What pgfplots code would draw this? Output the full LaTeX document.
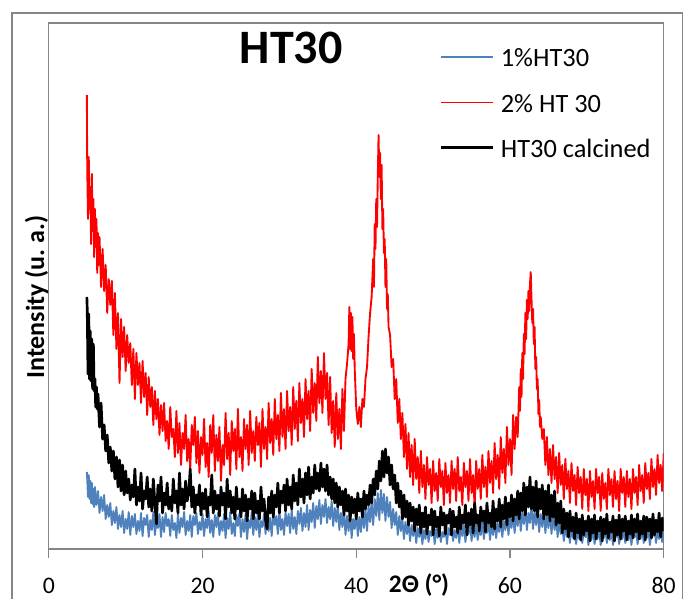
\documentclass[border=0pt]{standalone}
\usepackage{fontspec}
\setmainfont{Carlito}
\usepackage{pgfplots}
\pgfplotsset{compat=1.18}
\definecolor{xlblue}{RGB}{79,129,189}
\definecolor{xlred}{RGB}{255,0,0}
\definecolor{xlgray}{RGB}{134,134,134}
\begin{document}
\begin{tikzpicture}
\useasboundingbox (-36.6pt,-37.5pt) rectangle (475.65pt,411.75pt);
\draw[xlgray, line width=0.9pt] (-27.6pt,-60pt) -- (-27.6pt,402pt) -- (475pt,402pt) -- (475pt,-60pt);
\begin{axis}[
  at={(0pt,0pt)}, anchor=south west,
  scale only axis, width=461.2pt, height=394.5pt,
  xmin=0, xmax=80, ymin=0, ymax=526,
  xtick={0,20,40,60,80}, ytick=\empty,
  xtick pos=left,
  tick align=outside, major tick length=6.75pt,
  every tick/.style={xlgray, line width=0.9pt},
  axis line style={xlgray, line width=0.9pt},
  /pgf/number format/assume math mode=true,
  ticklabel style={font=\fontsize{17.8}{20}\selectfont},
  xticklabel style={anchor=base, yshift=-26.3pt},
  title={HT30},
  title style={at={(rel axis cs:0.394,0.907)}, anchor=base, font=\fontsize{36}{40}\selectfont\bfseries},
  xlabel={2Θ (°)},
  xlabel style={at={(rel axis cs:0.602,0)}, anchor=base, yshift=-32.8pt, font=\fontsize{19}{22}\selectfont\bfseries},
  ylabel={Intensity (u.\ a.)},
  ylabel style={at={(rel axis cs:-0.0078,0.479)}, anchor=base, font=\fontsize{19.5}{22}\selectfont\bfseries},
  legend style={at={(rel axis cs:0.636,0.950)}, anchor=north west, draw=none, fill=none, inner sep=0pt,
    column sep=4.5pt, row sep=17pt, font=\fontsize{19.8}{22}\selectfont,
    nodes={inner sep=0pt, text height=13pt, text depth=4pt}},
  legend cell align=left,
  legend image code/.code={\draw[#1] (0pt,3pt) -- (39pt,3pt);},
  every axis plot/.append style={line join=round},
]
\addplot[xlblue, line width=1.4pt, legend image post style={line width=1pt}] coordinates {
(4.95,77) (5.0,70) (5.1,52) (5.2,74) (5.3,50) (5.4,68) (5.5,46) (5.6,66) (5.7,45) (5.8,60) (5.9,42) (6.0,62) (6.2,44) (6.4,58) (6.6,36) (6.8,52) (7.0,38) (7.2,54) (7.4,30) (7.6,44) (7.8,32) (8.0,46) (8.2,24) (8.4,38) (8.6,26) (8.8,42) (9.0,20) (9.2,34) (9.4,22) (9.6,38) (9.8,16) (10.0,30) (10.2,20) (10.4,37) (10.6,14) (10.8,33) (11.0,22) (11.2,35) (11.4,15) (11.6,28) (11.8,18) (12.0,36) (12.2,13) (12.4,31) (12.6,24) (12.8,34) (13.0,12) (13.2,29) (13.4,19) (13.6,37) (13.8,14) (14.0,27) (14.2,21) (14.4,35) (14.6,12) (14.8,32) (15.0,17) (15.2,36) (15.4,23) (15.6,30) (15.8,13) (16.0,34) (16.2,19) (16.4,26) (16.6,11) (16.8,35) (17.0,16) (17.2,31) (17.4,22) (17.6,37) (17.8,14) (18.0,28) (18.2,18) (18.4,34) (18.6,12) (18.8,33) (19.0,24) (19.2,36) (19.4,15) (19.6,27) (19.8,19) (20.0,35) (20.2,13) (20.4,30) (20.6,21) (20.8,38) (21.0,16) (21.2,29) (21.4,12) (21.6,34) (21.8,22) (22.0,36) (22.2,14) (22.4,28) (22.6,18) (22.8,35) (23.0,11) (23.2,31) (23.4,20) (23.6,37) (23.8,15) (24.0,26) (24.2,13) (24.4,34) (24.6,23) (24.8,36) (25.0,12) (25.2,30) (25.4,17) (25.6,35) (25.8,10) (26.0,29) (26.2,21) (26.4,37) (26.6,14) (26.8,32) (27.0,19) (27.2,36) (27.4,12) (27.6,28) (27.8,22) (28.0,35) (28.2,15) (28.4,38) (28.6,18) (28.8,31) (29.0,13) (29.2,36) (29.4,24) (29.6,33) (29.8,15) (30.0,39) (30.2,19) (30.4,30) (30.6,14) (30.8,37) (31.0,23) (31.2,35) (31.4,16) (31.6,40) (31.8,20) (32.0,32) (32.2,15) (32.4,38) (32.6,25) (32.8,41) (33.0,18) (33.2,36) (33.4,22) (33.6,44) (33.8,19) (34.0,39) (34.2,27) (34.4,46) (34.6,21) (34.8,43) (35.0,30) (35.2,49) (35.4,25) (35.6,44) (35.8,32) (36.0,50) (36.2,26) (36.4,42) (36.6,30) (36.8,48) (37.0,23) (37.2,41) (37.4,27) (37.6,44) (37.8,19) (38.0,36) (38.2,22) (38.4,39) (38.6,14) (38.8,33) (39.0,18) (39.2,36) (39.4,11) (39.6,30) (39.8,20) (40.0,37) (40.2,13) (40.4,32) (40.6,17) (40.8,38) (41.0,21) (41.2,40) (41.4,18) (41.6,43) (41.8,27) (42.0,48) (42.2,24) (42.4,50) (42.6,33) (42.8,56) (43.0,29) (43.2,59) (43.4,36) (43.6,55) (43.8,28) (44.0,52) (44.2,32) (44.4,47) (44.6,21) (44.8,40) (45.0,24) (45.2,37) (45.4,14) (45.6,33) (45.8,18) (46.0,30) (46.2,10) (46.4,27) (46.6,15) (46.8,28) (47.0,8) (47.2,24) (47.4,13) (47.6,25) (47.8,6) (48.0,21) (48.2,12) (48.4,23) (48.6,5) (48.8,19) (49.0,10) (49.2,24) (49.4,7) (49.6,18) (49.8,13) (50.0,22) (50.2,5) (50.4,20) (50.6,11) (50.8,24) (51.0,7) (51.2,17) (51.4,12) (51.6,23) (51.8,5) (52.0,21) (52.2,14) (52.4,25) (52.6,8) (52.8,19) (53.0,11) (53.2,26) (53.4,6) (53.6,22) (53.8,13) (54.0,24) (54.2,7) (54.4,20) (54.6,15) (54.8,27) (55.0,8) (55.2,23) (55.4,12) (55.6,26) (55.8,9) (56.0,21) (56.2,14) (56.4,28) (56.6,10) (56.8,24) (57.0,16) (57.2,29) (57.4,9) (57.6,25) (57.8,14) (58.0,30) (58.2,11) (58.4,26) (58.6,17) (58.8,31) (59.0,12) (59.2,28) (59.4,19) (59.6,34) (59.8,14) (60.0,31) (60.2,21) (60.4,36) (60.6,16) (60.8,34) (61.0,23) (61.2,39) (61.4,18) (61.6,37) (61.8,25) (62.0,42) (62.2,19) (62.4,36) (62.6,26) (62.8,43) (63.0,20) (63.2,38) (63.4,24) (63.6,41) (63.8,17) (64.0,35) (64.2,22) (64.4,39) (64.6,16) (64.8,33) (65.0,21) (65.2,37) (65.4,15) (65.6,34) (65.8,19) (66.0,31) (66.2,12) (66.4,29) (66.6,15) (66.8,26) (67.0,8) (67.2,25) (67.4,12) (67.6,22) (67.8,6) (68.0,21) (68.2,11) (68.4,23) (68.6,5) (68.8,18) (69.0,10) (69.2,21) (69.4,6) (69.6,17) (69.8,12) (70.0,20) (70.2,4) (70.4,18) (70.6,9) (70.8,21) (71.0,5) (71.2,15) (71.4,10) (71.6,19) (71.8,4) (72.0,17) (72.2,11) (72.4,21) (72.6,6) (72.8,16) (73.0,9) (73.2,20) (73.4,4) (73.6,18) (73.8,12) (74.0,19) (74.2,5) (74.4,15) (74.6,10) (74.8,21) (75.0,6) (75.2,17) (75.4,9) (75.6,20) (75.8,4) (76.0,18) (76.2,12) (76.4,19) (76.6,5) (76.8,16) (77.0,10) (77.2,21) (77.4,6) (77.6,17) (77.8,11) (78.0,20) (78.2,4) (78.4,18) (78.6,13) (78.8,21) (79.0,6) (79.2,19) (79.4,10) (79.6,22) (79.8,7) (80.0,21)
};
\addlegendentry{1\%HT30}
\addplot[xlred, line width=1.4pt, legend image post style={line width=1pt}] coordinates {
(4.95,454) (5.0,381) (5.1,330) (5.2,392) (5.3,340) (5.4,362) (5.5,305) (5.6,375) (5.7,318) (5.8,350) (5.9,292) (6.0,340) (6.1,302) (6.2,330) (6.3,276) (6.4,316) (6.5,284) (6.6,312) (6.8,262) (7.0,300) (7.2,258) (7.4,284) (7.6,236) (7.8,270) (8.0,244) (8.2,268) (8.4,214) (8.6,256) (8.8,200) (9.0,236) (9.2,166) (9.4,230) (9.6,192) (9.8,222) (10.0,178) (10.2,214) (10.4,186) (10.6,206) (10.8,164) (11.0,200) (11.2,150) (11.4,196) (11.6,164) (11.8,186) (12.0,146) (12.2,188) (12.4,152) (12.6,176) (12.8,134) (13.0,172) (13.2,142) (13.4,162) (13.6,124) (13.8,158) (14.0,130) (14.2,150) (14.4,114) (14.6,144) (14.8,118)
(15.0,146) (15.2,108) (15.4,128) (15.6,100) (15.8,142) (16.0,112) (16.2,120) (16.4,92) (16.6,138) (16.8,96) (17.0,126) (17.2,84) (17.4,116) (17.6,100) (17.8,134) (18.0,88) (18.2,110) (18.4,80) (18.6,124) (18.8,104) (19.0,132) (19.2,86) (19.4,118) (19.6,76) (19.8,112) (20.0,94) (20.2,130) (20.4,82) (20.6,106) (20.8,72) (21.0,124) (21.2,96) (21.4,134) (21.6,78) (21.8,114) (22.0,88) (22.2,122) (22.4,68) (22.6,104) (22.8,84) (23.0,136) (23.2,90) (23.4,116) (23.6,74) (23.8,128) (24.0,98) (24.2,120) (24.4,80) (24.6,140) (24.8,92) (25.0,112) (25.2,78) (25.4,130) (25.6,100) (25.8,124) (26.0,84) (26.2,138) (26.4,96) (26.6,118) (26.8,88) (27.0,132) (27.2,104) (27.4,126) (27.6,82) (27.8,140) (28.0,100) (28.2,122) (28.4,90) (28.6,146) (28.8,106) (29.0,130) (29.2,94) (29.4,150) (29.6,110) (29.8,134) (30.0,98) (30.2,156) (30.4,112) (30.6,140) (30.8,100) (31.0,158) (31.2,118) (31.4,142) (31.6,104) (31.8,162) (32.0,120) (32.2,148) (32.4,108) (32.6,166) (32.8,126) (33.0,150) (33.2,112) (33.4,170) (33.6,130) (33.8,158) (34.0,118) (34.2,180) (34.4,136) (34.6,166) (34.8,128) (35.0,192) (35.2,146) (35.4,178) (35.6,136) (35.8,196) (36.0,150) (36.2,176) (36.4,124) (36.6,172) (36.8,116) (37.0,148) (37.2,102) (37.4,156) (37.6,110) (37.8,140) (38.0,100) (38.2,160) (38.4,118)
(38.6,170) (38.8,185) (39.0,205) (39.1,242) (39.2,200) (39.3,236) (39.4,198) (39.5,232) (39.6,190) (39.7,215) (39.8,180) (39.9,160) (40.0,140) (40.2,125) (40.4,142) (40.6,122) (40.8,150) (41.0,142) (41.2,170) (41.4,182) (41.6,212) (41.8,236) (42.0,252) (42.2,290) (42.3,262) (42.4,325) (42.5,300) (42.6,350) (42.7,322) (42.8,372) (42.9,414) (43.0,372) (43.1,396) (43.2,350) (43.3,384) (43.4,320) (43.5,340) (43.6,296) (43.7,310) (43.8,262) (43.9,290) (44.0,240) (44.1,255) (44.2,222) (44.4,214) (44.6,182) (44.8,190) (45.0,150) (45.2,170) (45.4,126) (45.6,150) (45.8,110) (46.0,136) (46.2,92) (46.4,125)
(46.6,80) (46.8,116) (47.0,72) (47.2,104) (47.4,64) (47.6,110) (47.8,70) (48.0,92) (48.2,56) (48.4,98) (48.6,62) (48.8,84) (49.0,50) (49.2,92) (49.4,64) (49.6,80) (49.8,46) (50.0,88) (50.2,58) (50.4,76) (50.6,48) (50.8,90) (51.0,62) (51.2,78) (51.4,44) (51.6,86) (51.8,56) (52.0,74) (52.2,46) (52.4,88) (52.6,60) (52.8,80) (53.0,48) (53.2,92) (53.4,58) (53.6,72) (53.8,44) (54.0,86) (54.2,62) (54.4,78) (54.6,48) (54.8,90) (55.0,56) (55.2,74) (55.4,42) (55.6,88) (55.8,60) (56.0,80) (56.2,50) (56.4,94) (56.6,62) (56.8,82) (57.0,52) (57.2,98) (57.4,66) (57.6,88) (57.8,56) (58.0,106) (58.2,70) (58.4,94) (58.6,60) (58.8,112) (59.0,76) (59.2,100) (59.4,66) (59.6,122) (59.8,84) (60.0,110) (60.2,74) (60.4,134)
(60.6,100) (60.8,132) (61.0,112) (61.2,162) (61.3,138) (61.4,180) (61.5,152) (61.6,196) (61.7,170) (61.8,215) (61.9,195) (62.0,236) (62.1,210) (62.2,249) (62.3,230) (62.4,258) (62.5,238) (62.6,265) (62.7,277) (62.8,250) (62.9,226) (63.0,240) (63.1,205) (63.2,222) (63.3,180) (63.4,192) (63.5,160) (63.6,170) (63.7,135) (63.8,149) (63.9,122) (64.0,132) (64.2,110) (64.4,120)
(64.6,84) (64.8,112) (65.0,74) (65.2,100) (65.4,66) (65.6,104) (65.8,70) (66.0,92) (66.2,56) (66.4,96) (66.6,64) (66.8,84) (67.0,50) (67.2,90) (67.4,60) (67.6,78) (67.8,46) (68.0,86) (68.2,58) (68.4,74) (68.6,44) (68.8,82) (69.0,56) (69.2,72) (69.4,40) (69.6,80) (69.8,54) (70.0,70) (70.2,38) (70.4,78) (70.6,52) (70.8,68) (71.0,40) (71.2,80) (71.4,56) (71.6,72) (71.8,38) (72.0,76) (72.2,50) (72.4,66) (72.6,40) (72.8,80) (73.0,54) (73.2,70) (73.4,42) (73.6,78) (73.8,50) (74.0,68) (74.2,38) (74.4,80) (74.6,56) (74.8,72) (75.0,42) (75.2,78) (75.4,52) (75.6,70) (75.8,40) (76.0,80) (76.2,56) (76.4,72) (76.6,44) (76.8,84) (77.0,58) (77.2,74) (77.4,46) (77.6,86) (77.8,60) (78.0,76) (78.2,50) (78.4,90) (78.6,62) (78.8,80) (79.0,54) (79.2,94) (79.4,66) (79.6,84) (79.8,58) (80.0,96)
};
\addlegendentry{2\% HT 30}
\addplot[black, line width=2pt] coordinates {
(4.95,252) (5.0,240) (5.1,175) (5.2,235) (5.3,170) (5.4,218) (5.5,168) (5.6,210) (5.7,160) (5.8,205) (5.9,158) (6.0,170) (6.1,142) (6.2,162) (6.3,140) (6.4,155) (6.6,122) (6.8,146) (7.0,110) (7.2,124) (7.4,98) (7.6,114) (7.8,86) (8.0,102) (8.2,78) (8.4,98) (8.6,70) (8.8,92) (9.0,62) (9.2,89) (9.4,58) (9.6,84) (9.8,54)
(10.0,78) (10.2,56) (10.4,70) (10.6,49) (10.8,64) (11.0,52) (11.2,80) (11.4,44) (11.6,62) (11.8,48) (12.0,76) (12.2,40) (12.4,58) (12.6,50) (12.8,72) (13.0,42) (13.2,60) (13.4,38) (13.6,70) (13.8,46) (14.0,25) (14.2,64) (14.4,48) (14.6,72) (14.8,36) (15.0,56) (15.2,44) (15.4,66) (15.6,40) (15.8,52) (16.0,38) (16.2,70) (16.4,46) (16.6,58) (16.8,36) (17.0,76) (17.2,44) (17.4,60) (17.6,40) (17.8,68) (18.0,48) (18.2,56) (18.4,80) (18.6,42) (18.8,62) (19.0,36) (19.2,54) (19.4,44) (19.6,64) (19.8,34) (20.0,56) (20.2,40) (20.4,60) (20.6,32) (20.8,52) (21.0,44) (21.2,74) (21.4,36) (21.6,58) (21.8,40) (22.0,54) (22.2,33) (22.4,62) (22.6,44) (22.8,56) (23.0,30) (23.2,70) (23.4,42) (23.6,58) (23.8,36) (24.0,52) (24.2,30) (24.4,62) (24.6,40) (24.8,50) (25.0,32) (25.2,60) (25.4,38) (25.6,54) (25.8,28) (26.0,50) (26.2,40) (26.4,58) (26.6,30) (26.8,56) (27.0,36) (27.2,48) (27.4,30) (27.6,62) (27.8,38) (28.0,50) (28.2,29) (28.4,20) (28.6,52) (28.8,36) (29.0,58) (29.2,32) (29.4,54) (29.6,42) (29.8,66) (30.0,36) (30.2,58) (30.4,46) (30.6,64) (30.8,38) (31.0,70) (31.2,44) (31.4,62) (31.6,40) (31.8,74) (32.0,48) (32.2,66) (32.4,44) (32.6,80) (32.8,52) (33.0,70) (33.2,46) (33.4,76) (33.6,54) (33.8,82) (34.0,50) (34.2,72) (34.4,56) (34.6,84) (34.8,60) (35.0,76) (35.2,58) (35.4,86) (35.6,62) (35.8,80) (36.0,58) (36.2,84) (36.4,54) (36.6,72) (36.8,50) (37.0,70) (37.2,46) (37.4,66) (37.6,42) (37.8,62) (38.0,44) (38.2,58) (38.4,34) (38.6,60) (38.8,38) (39.0,54) (39.2,28) (39.4,52) (39.6,36) (39.8,50) (40.0,30) (40.2,56) (40.4,38) (40.6,50) (40.8,32) (41.0,58) (41.2,40) (41.4,54) (41.6,44) (41.8,64) (42.0,46) (42.2,70) (42.4,54) (42.6,78) (42.8,60) (43.0,88) (43.2,68) (43.4,98) (43.6,72) (43.8,100) (44.0,76) (44.2,92) (44.4,64) (44.6,84) (44.8,60) (45.0,74) (45.2,46) (45.4,66) (45.6,42) (45.8,58) (46.0,30) (46.2,54) (46.4,32) (46.6,48) (46.8,24) (47.0,46) (47.2,28) (47.4,42) (47.6,18) (47.8,40) (48.0,24) (48.2,44) (48.4,16) (48.6,36) (48.8,22) (49.0,42) (49.2,15) (49.4,34) (49.6,24) (49.8,40) (50.0,14) (50.2,38) (50.4,22) (50.6,32) (50.8,13) (51.0,42) (51.2,24) (51.4,36) (51.6,15) (51.8,34) (52.0,26) (52.2,40) (52.4,14) (52.6,38) (52.8,22) (53.0,32) (53.2,16) (53.4,42) (53.6,20) (53.8,34) (54.0,26) (54.2,44) (54.4,14) (54.6,36) (54.8,24) (55.0,40) (55.2,16) (55.4,46) (55.6,26) (55.8,34) (56.0,18) (56.2,42) (56.4,28) (56.6,38) (56.8,17) (57.0,46) (57.2,26) (57.4,36) (57.6,22) (57.8,48) (58.0,20) (58.2,40) (58.4,28) (58.6,50) (58.8,22) (59.0,44) (59.2,30) (59.4,52) (59.6,24) (59.8,46) (60.0,32) (60.2,54) (60.4,28) (60.6,50) (60.8,34) (61.0,58) (61.2,30) (61.4,56) (61.6,38) (61.8,66) (62.0,34) (62.2,62) (62.4,42) (62.6,72) (62.8,40) (63.0,62) (63.2,38) (63.4,68) (63.6,32) (63.8,60) (64.0,40) (64.2,64) (64.4,30) (64.6,58) (64.8,34) (65.0,64) (65.2,28) (65.4,54) (65.6,32) (65.8,58) (66.0,24) (66.2,46) (66.4,26) (66.6,48) (66.8,16) (67.0,40) (67.2,20) (67.4,36) (67.6,12) (67.8,38) (68.0,18) (68.2,32) (68.4,10) (68.6,36) (68.8,16) (69.0,30) (69.2,9) (69.4,34) (69.6,14) (69.8,28) (70.0,18) (70.2,33) (70.4,8) (70.6,30) (70.8,16) (71.0,34) (71.2,10) (71.4,28) (71.6,18) (71.8,32) (72.0,8) (72.2,30) (72.4,15) (72.6,35) (72.8,11) (73.0,27) (73.2,17) (73.4,33) (73.6,8) (73.8,29) (74.0,14) (74.2,34) (74.4,10) (74.6,30) (74.8,18) (75.0,33) (75.2,9) (75.4,28) (75.6,15) (75.8,34) (76.0,11) (76.2,30) (76.4,17) (76.6,35) (76.8,10) (77.0,28) (77.2,15) (77.4,33) (77.6,9) (77.8,32) (78.0,18) (78.2,30) (78.4,11) (78.6,35) (78.8,14) (79.0,29) (79.2,17) (79.4,36) (79.6,12) (79.8,31) (80.0,18)
};
\addlegendentry{HT30 calcined}
\end{axis}
\end{tikzpicture}
\end{document}
